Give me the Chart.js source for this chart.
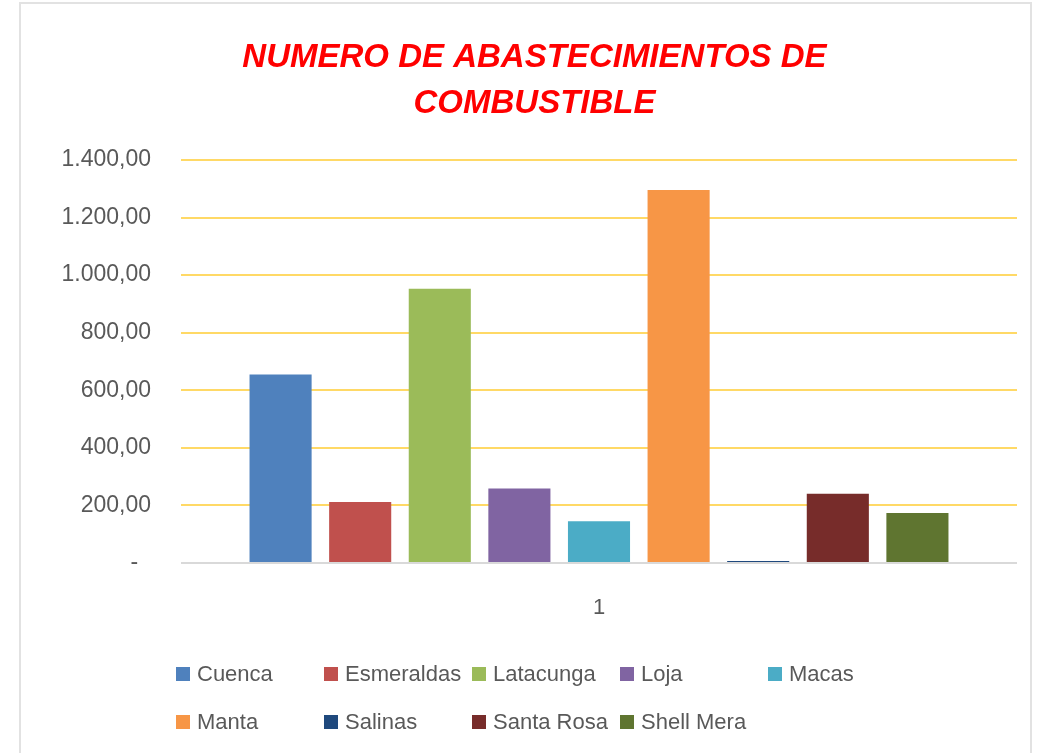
<!DOCTYPE html>
<html>
<head>
<meta charset="utf-8">
<script src="https://cdn.jsdelivr.net/npm/chart.js@4.4.1/dist/chart.umd.min.js"></script>
<style>
  html, body { margin: 0; padding: 0; background: #fff; overflow: hidden; }
  #frame {
    position: absolute; left: 19px; top: 2px; width: 1009px; height: 800px;
    border: 2px solid #e2e2e2; border-bottom: none;
  }
  #wrap { position: absolute; left: 0; top: 0; width: 1051px; height: 753px; }
</style>
</head>
<body>
<div id="frame"></div>
<div id="wrap"><canvas id="grapharea" width="1051" height="753"></canvas></div>
<script>
// values
const categories = ['1'];
const sites = ['Cuenca', 'Esmeraldas', 'Latacunga', 'Loja', 'Macas', 'Manta', 'Salinas', 'Santa Rosa', 'Shell Mera'];
const abastecimientos = [655, 212, 953, 259, 145, 1296, 7, 241, 174];
const yMax = 1400;
const yStep = 200;

const siteColors = ['#4F81BD', '#C0504D', '#9BBB59', '#8064A2', '#4BACC6', '#F79646', '#1F497D', '#772C2A', '#5F7530'];

const FONT = '"Liberation Sans", Arial, sans-serif';
const TEXT_GREY = '#595959';

// 1400 -> "1.400,00", 0 -> "-"
function formatTick(value){
    if (value === 0) return '-  ';
    let parts = value.toFixed(2).split('.');
    let whole = parts[0].replace(/\B(?=(\d{3})+(?!\d))/g, '.');
    return whole + ',' + parts[1];
}

function buildDatasets(){
    return sites.map((name, i) => ({
        label: name,
        data: [abastecimientos[i]],
        backgroundColor: siteColors[i],
        borderWidth: 0
    }));
}

// legend laid out in fixed columns, like the spreadsheet one
const gridLegend = {
    id: 'gridLegend',
    afterDraw(chart){
        const ctx = chart.ctx;
        const area = chart.chartArea;
        const perRow = 5;
        const colStart = 176;
        const colWidth = 148;
        const rowY = [area.bottom + 111, area.bottom + 159];
        ctx.save();
        ctx.font = '22px ' + FONT;
        ctx.textBaseline = 'middle';
        ctx.textAlign = 'left';
        chart.data.datasets.forEach((ds, i) => {
            let x = colStart + (i % perRow) * colWidth;
            let y = rowY[Math.floor(i / perRow)];
            ctx.fillStyle = ds.backgroundColor;
            ctx.fillRect(x, y - 7, 14, 14);
            ctx.fillStyle = TEXT_GREY;
            ctx.fillText(ds.label, x + 21, y + 1);
        });
        ctx.restore();
    }
};

let CurrencyChart = new Chart(document.getElementById('grapharea'), {
    type: 'bar',
    data: {
        labels: categories,
        datasets: buildDatasets()
    },
    options: {
        responsive: false,
        animation: false,
        layout: { padding: { left: 52, right: 34, top: 0, bottom: 0 } },
        datasets: {
            bar: { categoryPercentage: 0.857, barPercentage: 0.78 }
        },
        plugins: {
            legend: { display: false },
            tooltip: { enabled: false },
            title: {
                display: true,
                text: ['NUMERO DE ABASTECIMIENTOS DE', 'COMBUSTIBLE'],
                color: '#FF0000',
                font: { family: FONT, size: 33, weight: 'bold', style: 'italic', lineHeight: 1.394 },
                padding: { top: 35, bottom: 33 }
            }
        },
        scales: {
            x: {
                grid: { display: false },
                border: { display: false },
                ticks: { color: TEXT_GREY, font: { family: FONT, size: 22 }, padding: 24 },
                afterFit(scale){ scale.height = 190; }
            },
            y: {
                min: 0,
                max: yMax,
                border: { display: false },
                grid: {
                    drawTicks: false,
                    lineWidth: 2,
                    color: ctx => ctx.tick && ctx.tick.value === 0 ? '#D9D9D9' : '#FFD966'
                },
                ticks: {
                    stepSize: yStep,
                    padding: 30,
                    color: TEXT_GREY,
                    font: { family: FONT, size: 23 },
                    callback: value => formatTick(value)
                },
                afterFit(scale){ scale.width = 129; }
            }
        }
    },
    plugins: [gridLegend]
});
</script>
</body>
</html>
